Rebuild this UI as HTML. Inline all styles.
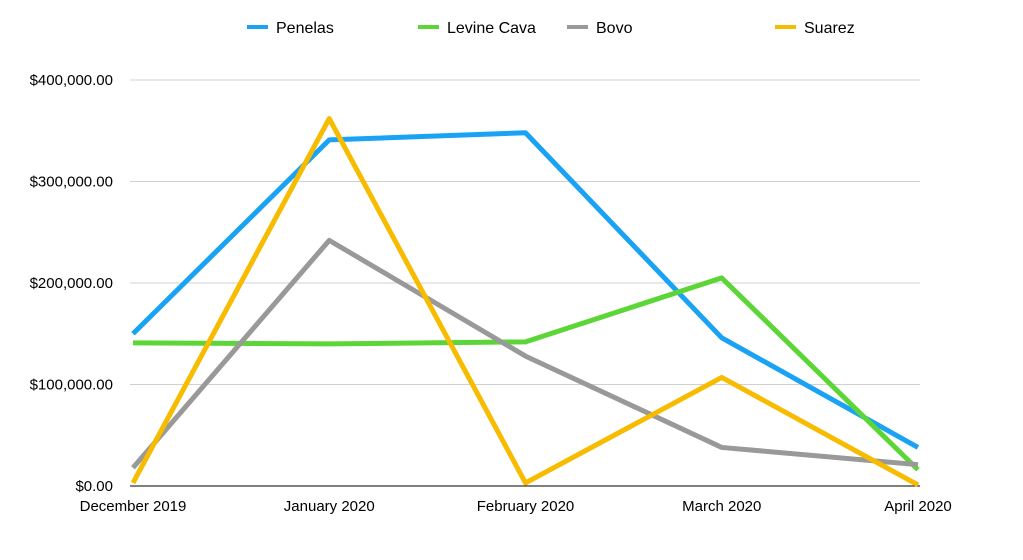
<!DOCTYPE html>
<html><head><meta charset="utf-8"><style>
html,body{margin:0;padding:0;background:#fff;}
svg{display:block;font-family:"Liberation Sans",Arial,sans-serif;}
</style></head><body>
<svg id="chart" width="1023" height="560" viewBox="0 0 1023 560" xmlns="http://www.w3.org/2000/svg">
<g id="grid"></g>
<g id="yaxis"></g>
<g id="xaxis"></g>
<g id="series"></g>
<g id="legend"></g>
</svg>
<script>
const categories = ["December 2019","January 2020","February 2020","March 2020","April 2020"];
const seriesNames = ["Penelas","Levine Cava","Bovo","Suarez"];
const penelas = [150000,341000,348000,146000,38000];
const levineCava = [141000,140000,142000,205000,16000];
const bovo = [18000,242000,128000,38000,21000];
const suarez = [3000,362000,3000,107000,1000];
const yTicks = [0,100000,200000,300000,400000];
const yTickLabels = ["$0.00","$100,000.00","$200,000.00","$300,000.00","$400,000.00"];

const NS="http://www.w3.org/2000/svg";
const colors=["#1aa3f5","#5cd637","#999999","#f7bb00"];
const data=[penelas,levineCava,bovo,suarez];
const x0=133,x1=918,yBase=486,yTop=80,yMax=400000;
const xs=i=>x0+(x1-x0)*i/(categories.length-1);
const ys=v=>yBase-(yBase-yTop)*v/yMax;
function mk(t,a,p){const e=document.createElementNS(NS,t);for(const k in a)e.setAttribute(k,a[k]);p.appendChild(e);return e;}
const grid=document.getElementById('grid'),ya=document.getElementById('yaxis'),xa=document.getElementById('xaxis'),sg=document.getElementById('series'),lg=document.getElementById('legend');
yTicks.forEach((v,i)=>{
  const l=mk('line',{x1:130,x2:920,y1:ys(v),y2:ys(v),stroke:i===0?'#000':'#d0d0d0','stroke-width':1},grid);
  
  
  const t=mk('text',{x:113,y:ys(v)+5,'text-anchor':'end','font-size':15,fill:'#000'},ya);
  t.textContent=yTickLabels[i];
  
  
});
categories.forEach((c,i)=>{
  const t=mk('text',{x:xs(i),y:511,'text-anchor':'middle','font-size':15,fill:'#000'},xa);
  t.textContent=c;
  
  
});
data.forEach((arr,s)=>{
  const p=mk('polyline',{points:arr.map((v,i)=>xs(i)+','+ys(v)).join(' '),fill:'none',stroke:colors[s],'stroke-width':5,'stroke-linejoin':'round'},sg);
  
  
});
const lx=[247,418,567,775];
seriesNames.forEach((n,s)=>{
  const g=mk('g',{},lg);
  
  
  mk('line',{x1:lx[s],x2:lx[s]+21,y1:27,y2:27,stroke:colors[s],'stroke-width':4},g);
  const t=mk('text',{x:lx[s]+29,y:33,'font-size':16,fill:'#000'},g);
  t.textContent=n;
});
</script>
</body></html>
